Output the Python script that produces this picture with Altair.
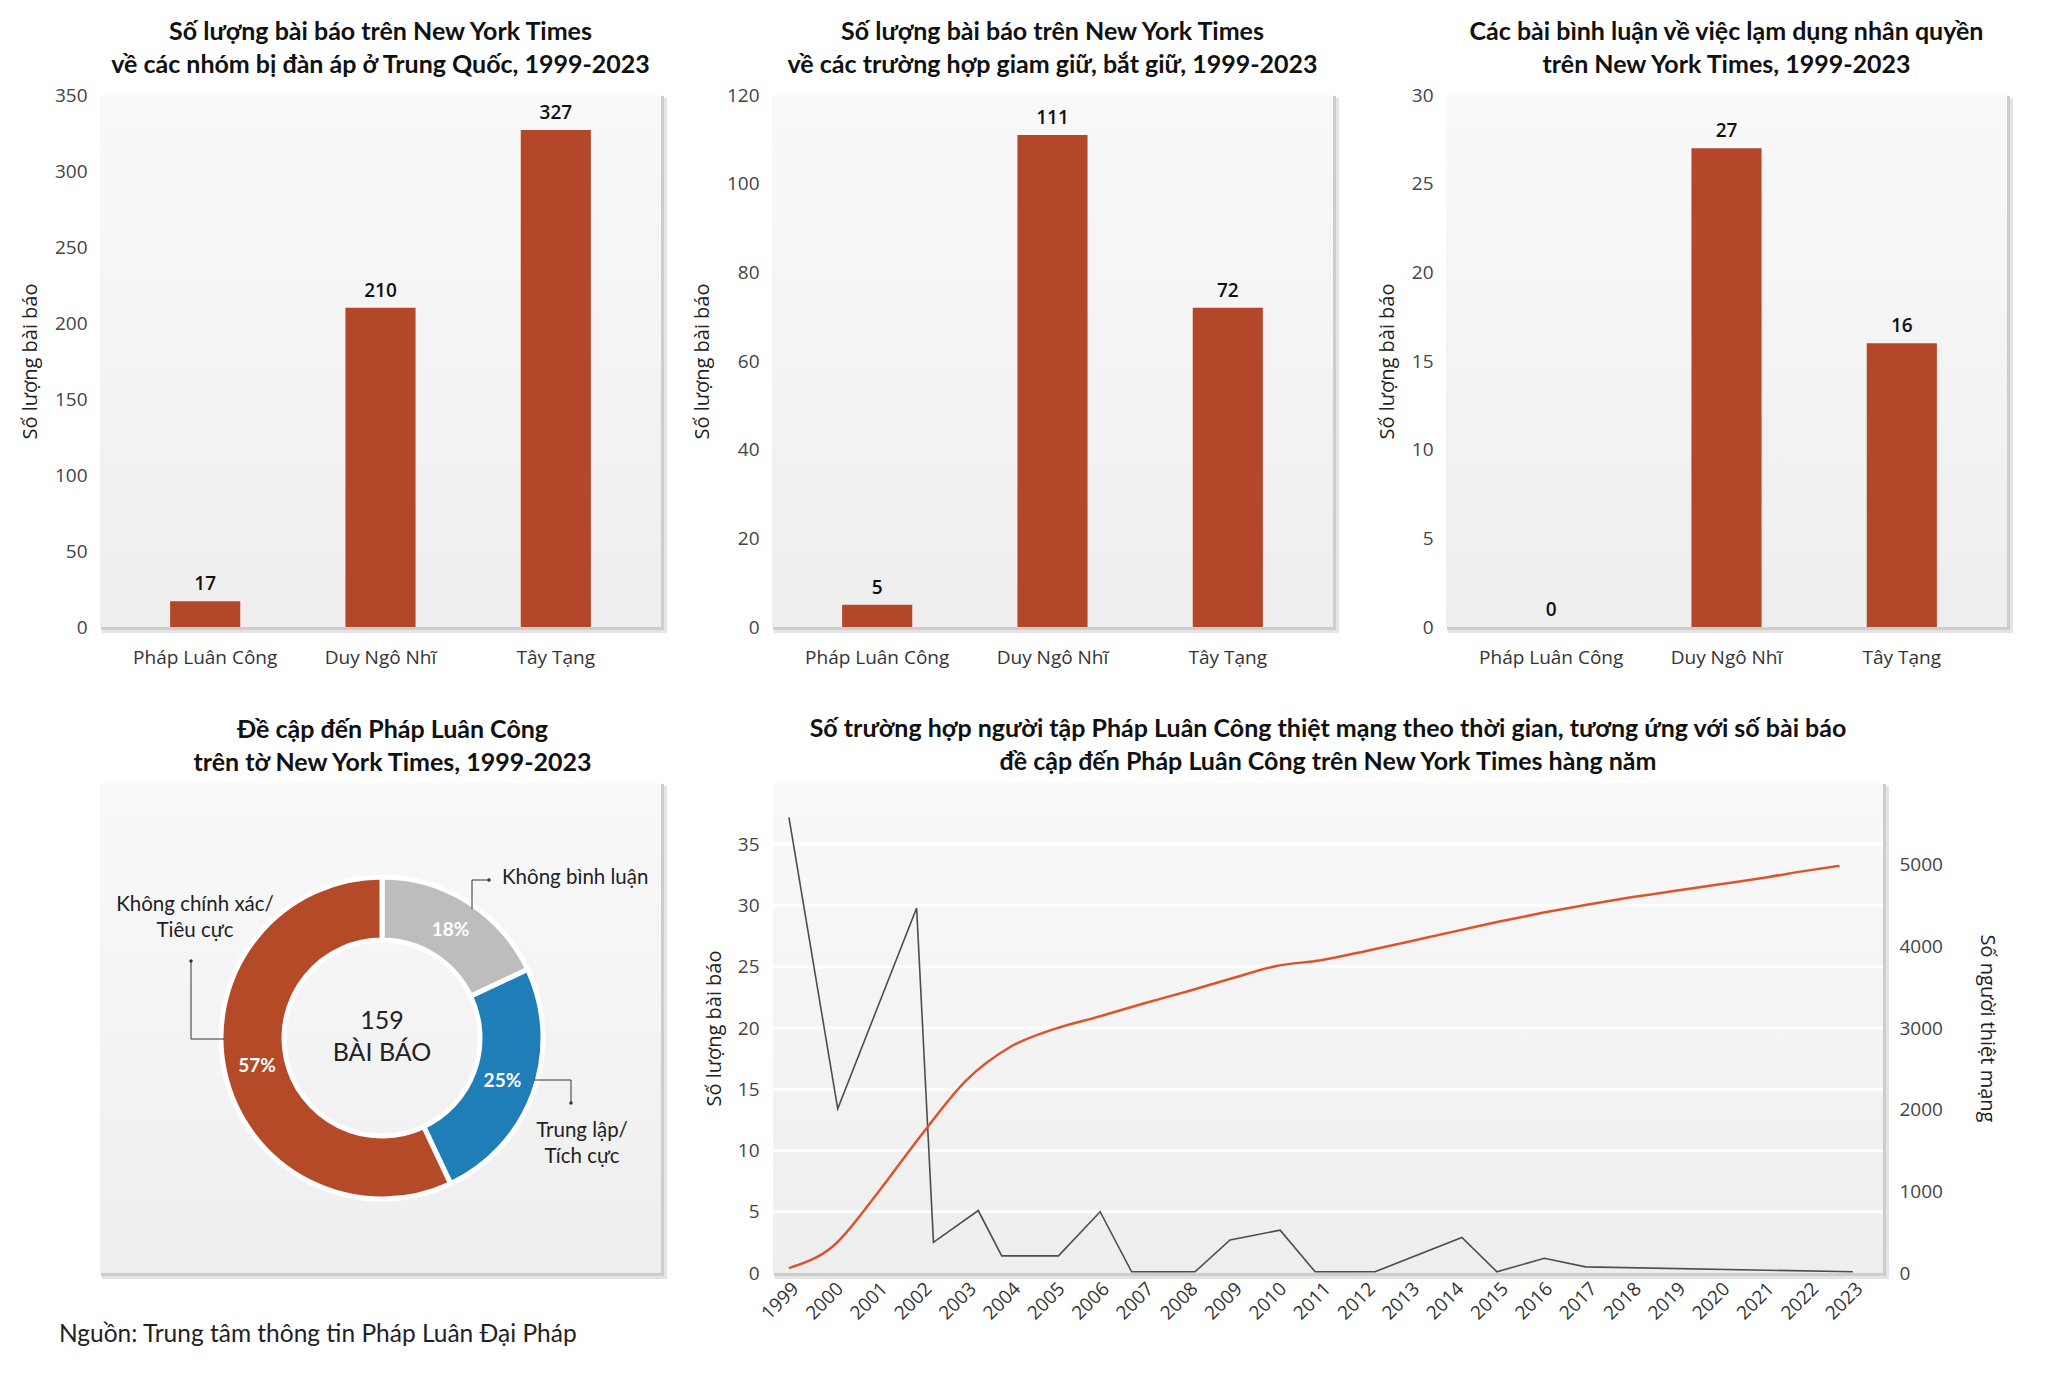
import altair as alt
import pandas as pd

# ---------------- data ----------------
groups = ["Pháp Luân Công", "Duy Ngô Nhĩ", "Tây Tạng"]
repressed_counts = [17, 210, 327]
detention_counts = [5, 111, 72]
rights_commentary_counts = [0, 27, 16]

tone_labels = ["Không bình luận", "Trung lập/Tích cực", "Không chính xác/Tiêu cực"]
tone_shares = [18, 25, 57]
tone_order = [1, 2, 3]
tone_total = 159

article_years = [1999.0, 2000.1, 2001.88, 2002.26, 2003.27, 2003.8, 2005.08, 2006.02,
                 2006.73, 2008.16, 2008.95, 2010.08, 2010.87, 2012.22, 2014.18, 2014.97,
                 2016.04, 2016.97, 2023.0]
article_counts = [37.2, 13.4, 29.8, 2.5, 5.1, 1.4, 1.4, 5.0,
                  0.1, 0.1, 2.7, 3.5, 0.1, 0.1, 2.9, 0.1,
                  1.2, 0.5, 0.1]

death_years = [1999, 2000, 2001, 2002, 2003, 2004, 2005, 2006, 2007, 2008, 2009, 2010,
               2011, 2012, 2013, 2014, 2015, 2016, 2017, 2018, 2019, 2020, 2021, 2022, 2022.7]
death_counts = [60, 330, 980, 1700, 2360, 2770, 2990, 3140, 3300, 3450, 3610, 3760,
                3830, 3940, 4060, 4180, 4300, 4410, 4510, 4600, 4680, 4760, 4840, 4930, 4985]

year_ticks = [1999, 2000, 2001, 2002, 2003, 2004, 2005, 2006, 2007, 2008, 2009, 2010, 2011,
              2012, 2013, 2014, 2015, 2016, 2017, 2018, 2019, 2020, 2021, 2022, 2023]
article_ticks = [0, 5, 10, 15, 20, 25, 30, 35]
death_ticks = [0, 1000, 2000, 3000, 4000, 5000]

# ---------------- styles ----------------
BAR = "#b4472a"
ORANGE_LINE = "#dd532b"
BLUE = "#1f7db8"
GRAY = "#bdbdbd"
TXT = "#222222"
AX = "#333333"
TFONT = "Lato"
AFONT = "Open Sans"

face_gradient = alt.LinearGradient(
    gradient="linear",
    stops=[alt.GradientStop(color="#f9f9f9", offset=0), alt.GradientStop(color="#eeeeee", offset=1)],
    x1=0, x2=0, y1=0, y2=1,
)
panel_src = alt.Data(values=[{"panel": 1}])


def panel_background(W, H):
    shadow2 = alt.Chart(panel_src).mark_rect(color="#e4e4e4").encode(
        x=alt.value(2), x2=alt.value(W + 6), y=alt.value(3), y2=alt.value(H + 6))
    shadow = alt.Chart(panel_src).mark_rect(color="#cdcdcd").encode(
        x=alt.value(1), x2=alt.value(W + 3), y=alt.value(1), y2=alt.value(H + 3))
    face = alt.Chart(panel_src).mark_rect(color=face_gradient).encode(
        x=alt.value(0), x2=alt.value(W), y=alt.value(0), y2=alt.value(H))
    return [shadow2, shadow, face]


TITLE_STYLE = dict(font=TFONT, fontWeight="bold", fontSize=25, color="#111111", lineHeight=33,
                   frame="group", anchor="middle")
AXIS_TITLE = dict(titleFontSize=20, titleFontWeight="normal", titleColor=TXT, titleFont=AFONT)


def bar_panel(values, ymax, yvals, title_lines):
    W, H = 561, 532
    df = pd.DataFrame({"group": groups, "count": values})
    bars = alt.Chart(df).mark_bar(color=BAR).encode(
        x=alt.X("group:N", sort=groups,
                scale=alt.Scale(paddingInner=0.6, paddingOuter=0.4),
                axis=alt.Axis(title=None, labelAngle=0, labelPadding=21, labelFontSize=19,
                              labelColor=AX, labelFont=AFONT, domain=False, ticks=False)),
        y=alt.Y("count:Q", scale=alt.Scale(domain=[0, ymax], nice=False),
                axis=alt.Axis(values=yvals, title="Số lượng bài báo", grid=False,
                              domain=False, ticks=False,
                              labelFontSize=19, labelColor="#444", labelPadding=13,
                              titlePadding=14, labelFont=AFONT, **AXIS_TITLE)),
    )
    labels = bars.mark_text(baseline="bottom", dy=-7, fontSize=19, fontWeight=600,
                            font=AFONT, color="#111").encode(text="count:Q")
    return alt.layer(*panel_background(W, H), bars, labels).properties(
        width=W, height=H,
        title=alt.TitleParams(title_lines, offset=8, **TITLE_STYLE),
    )


top1 = bar_panel(repressed_counts, 350, [0, 50, 100, 150, 200, 250, 300, 350],
                 ["Số lượng bài báo trên New York Times",
                  "về các nhóm bị đàn áp ở Trung Quốc, 1999-2023"])
top2 = bar_panel(detention_counts, 120, [0, 20, 40, 60, 80, 100, 120],
                 ["Số lượng bài báo trên New York Times",
                  "về các trường hợp giam giữ, bắt giữ, 1999-2023"])
top3 = bar_panel(rights_commentary_counts, 30, [0, 5, 10, 15, 20, 25, 30],
                 ["Các bài bình luận về việc lạm dụng nhân quyền",
                  "trên New York Times, 1999-2023"])

# ---------------- donut ----------------
DW, DH = 561, 490
CX, CY = 282, 255
tone_df = pd.DataFrame({"tone": tone_labels, "share": tone_shares, "ord": tone_order,
                        "pct": [f"{v}%" for v in tone_shares]})
donut_base = alt.Chart(tone_df).encode(
    theta=alt.Theta("share:Q", stack=True),
    order=alt.Order("ord:Q", sort="ascending"),
    color=alt.Color("tone:N", scale=alt.Scale(domain=tone_labels, range=[GRAY, BLUE, "#b54a28"]),
                    legend=None),
)
arcs = donut_base.mark_arc(innerRadius=98, outerRadius=161, stroke="white", strokeWidth=5).encode(
    x=alt.value(CX), y=alt.value(CY))
pct_text = donut_base.mark_text(radius=128, fontSize=19, fontWeight="bold", font=TFONT).encode(
    x=alt.value(CX), y=alt.value(CY), text="pct:N", color=alt.value("white"))
note_src = alt.Data(values=[{"note": 1}])
center_text = alt.Chart(note_src).mark_text(fontSize=25, font=TFONT, color=TXT, lineHeight=32).encode(
    x=alt.value(CX), y=alt.value(CY - 17), text=alt.value([str(tone_total), "BÀI BÁO"]))

ann_color = "#333333"


def rule(x1, y1, x2, y2):
    return alt.Chart(note_src).mark_rule(color=ann_color, strokeWidth=1).encode(
        x=alt.value(x1), y=alt.value(y1), x2=alt.value(x2), y2=alt.value(y2))


def dot(x, y):
    return alt.Chart(note_src).mark_circle(color=ann_color, size=12, opacity=1).encode(
        x=alt.value(x), y=alt.value(y))


def note(x, y, text, align):
    return alt.Chart(note_src).mark_text(fontSize=20.5, font=TFONT, color=TXT, align=align,
                                         lineHeight=26).encode(
        x=alt.value(x), y=alt.value(y), text=alt.value(text))


annotations = [
    rule(372, 97, 389, 97), rule(372, 97, 372, 126), dot(389, 97),
    note(402, 95, "Không bình luận", "left"),
    rule(91, 178, 91, 256), rule(91, 256, 124, 256), dot(91, 178),
    note(95, 122, ["Không chính xác/", "Tiêu cực"], "center"),
    rule(434, 297, 471, 297), rule(471, 297, 471, 320), dot(471, 320),
    note(482, 348, ["Trung lập/", "Tích cực"], "center"),
    alt.Chart(note_src).mark_text(fontSize=24.5, font=TFONT, color=TXT, align="left").encode(
        x=alt.value(-41), y=alt.value(552), text=alt.value("Nguồn: Trung tâm thông tin Pháp Luân Đại Pháp")),
]

donut = alt.layer(*panel_background(DW, DH), arcs, pct_text, center_text,
                  *annotations).properties(
    width=DW, height=DH,
    title=alt.TitleParams(["Đề cập đến Pháp Luân Công", "trên tờ New York Times, 1999-2023"],
                          dx=12, offset=7, **TITLE_STYLE),
)

# ---------------- line chart ----------------
LW, LH = 1110, 490
art_df = pd.DataFrame({"year": article_years, "count": article_counts})
death_df = pd.DataFrame({"year": death_years, "deaths": death_counts})
grid_df = pd.DataFrame({"v": article_ticks[1:]})

x_enc = alt.X("year:Q", scale=alt.Scale(domain=[1998.64, 2023.68], nice=False, zero=False),
              axis=alt.Axis(values=year_ticks, format="d", labelAngle=-45, title=None, grid=False,
                            domain=False, ticks=False,
                            labelFontSize=19, labelColor=AX, labelFont=AFONT, labelPadding=6))
left_scale = alt.Scale(domain=[0, 40], nice=False)

grid_rules = alt.Chart(grid_df).mark_rule(color="white", strokeWidth=3).encode(
    y=alt.Y("v:Q", scale=left_scale, axis=None))
black_line = alt.Chart(art_df).mark_line(color="#4d4d4d", strokeWidth=1.6).encode(
    x=x_enc,
    y=alt.Y("count:Q", scale=left_scale,
            axis=alt.Axis(orient="left", values=article_ticks, title="Số lượng bài báo", grid=False,
                          domain=False, ticks=False,
                          labelFontSize=19, labelColor="#444", labelPadding=14, labelFont=AFONT,
                          titlePadding=13, **AXIS_TITLE)),
)
orange_line = alt.Chart(death_df).mark_line(color=ORANGE_LINE, strokeWidth=2.5,
                                            interpolate="monotone").encode(
    x=x_enc,
    y=alt.Y("deaths:Q", scale=alt.Scale(domain=[0, 6000], nice=False),
            axis=alt.Axis(orient="right", values=death_ticks, format="d", title="Số người thiệt mạng",
                          grid=False, domain=False, ticks=False,
                          labelFontSize=19, labelColor="#444", labelPadding=16, labelFont=AFONT,
                          titlePadding=34, **AXIS_TITLE)),
)
line_chart = alt.layer(*panel_background(LW, LH), grid_rules, black_line, orange_line).resolve_scale(
    y="independent").properties(
    width=LW, height=LH,
    title=alt.TitleParams(["Số trường hợp người tập Pháp Luân Công thiệt mạng theo thời gian, tương ứng với số bài báo",
                           "đề cập đến Pháp Luân Công trên New York Times hàng năm"],
                          offset=8, **TITLE_STYLE),
)

top_row = alt.hconcat(alt.hconcat(top1, top2, spacing=25), top3, spacing=38)
bottom_row = alt.hconcat(donut, line_chart, spacing=37)

chart = alt.vconcat(top_row, bottom_row, spacing=50).properties(
    padding={"left": 12, "top": 12, "right": 4, "bottom": 4},
    background="white",
).configure_view(stroke=None)

chart.save("out.html", embed_options={"renderer": "svg", "actions": False})
